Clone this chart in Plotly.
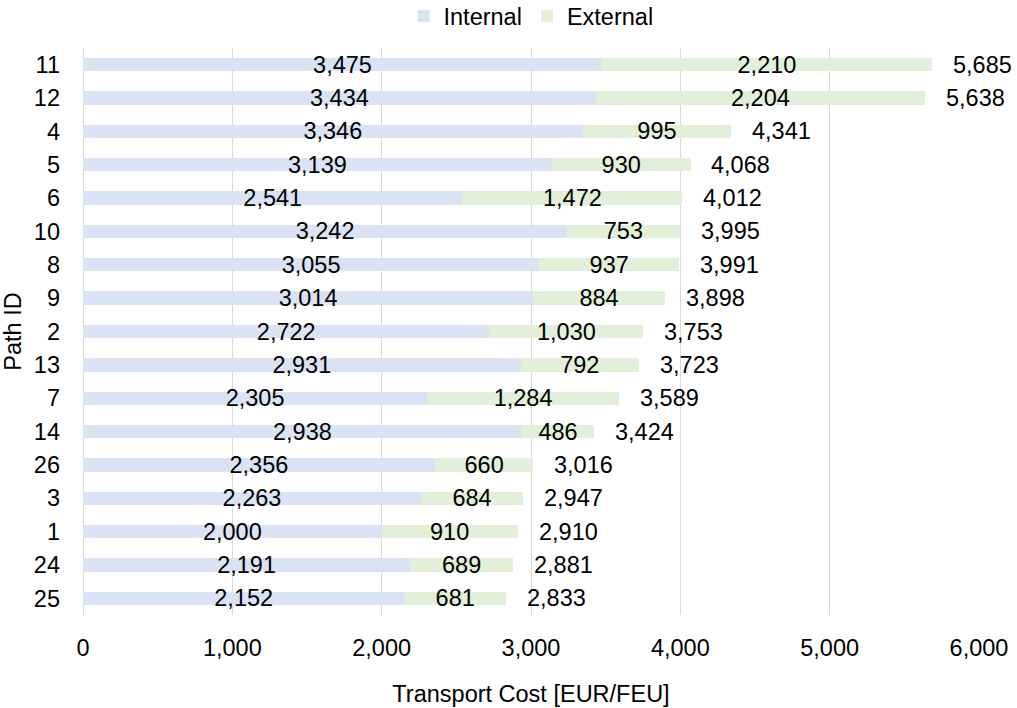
import plotly.graph_objects as go

paths = ["11", "12", "4", "5", "6", "10", "8", "9", "2", "13", "7", "14", "26", "3", "1", "24", "25"]
internal = [3475, 3434, 3346, 3139, 2541, 3242, 3055, 3014, 2722, 2931, 2305, 2938, 2356, 2263, 2000, 2191, 2152]
external = [2210, 2204, 995, 930, 1472, 753, 937, 884, 1030, 792, 1284, 486, 660, 684, 910, 689, 681]
totals = [5685, 5638, 4341, 4068, 4012, 3995, 3991, 3898, 3753, 3723, 3589, 3424, 3016, 2947, 2910, 2881, 2833]

FONT = "Liberation Sans, Arial, sans-serif"
FS = 23.5

fig = go.Figure()
fig.add_trace(go.Bar(
    y=paths, x=internal, name="Internal", orientation="h",
    marker=dict(color="#dae3f3", line=dict(width=0)),
    text=[f"{v:,}" for v in internal], textposition="inside",
    insidetextanchor="middle", constraintext="none",
    textfont=dict(family=FONT, size=FS, color="#000000"),
    width=0.4,
))
fig.add_trace(go.Bar(
    y=paths, x=external, name="External", orientation="h",
    marker=dict(color="#e2f0d9", line=dict(width=0)),
    text=[f"{v:,}" for v in external], textposition="inside",
    insidetextanchor="middle", constraintext="none",
    textfont=dict(family=FONT, size=FS, color="#000000"),
    width=0.4,
))

for i, t in enumerate(totals):
    fig.add_annotation(x=t, y=i, text=f"{t:,}", showarrow=False,
                       xanchor="left", xshift=19,
                       font=dict(family=FONT, size=FS, color="#000000"))

fig.update_layout(
    barmode="stack",
    width=1017, height=708,
    margin=dict(l=83, r=38, t=48, b=93, autoexpand=False),
    paper_bgcolor="white", plot_bgcolor="white",
    font=dict(family=FONT, size=FS, color="#000000"),
    legend=dict(orientation="h", x=0.5, xanchor="center", y=1.056, yanchor="middle",
                font=dict(family=FONT, size=FS), traceorder="normal",
                itemwidth=30),
    showlegend=True,
)
fig.update_xaxes(
    range=[0, 6000], tickvals=[0, 1000, 2000, 3000, 4000, 5000, 6000],
    ticktext=["0", "1,000", "2,000", "3,000", "4,000", "5,000", "6,000"],
    showgrid=True, gridcolor="#d9d9d9", gridwidth=1,
    zeroline=True, zerolinecolor="#d9d9d9", zerolinewidth=1,
    showline=False, ticks="", ticklabelstandoff=16,
    title=dict(text="Transport Cost [EUR/FEU]", standoff=26,
               font=dict(family=FONT, size=FS)),
)
fig.update_yaxes(
    type="category", categoryorder="array", categoryarray=paths,
    tickmode="array", tickvals=paths, ticktext=paths,
    autorange="reversed", showgrid=False, showline=False, ticks="",
    ticklabelstandoff=22,
    title=dict(text="Path ID", standoff=6, font=dict(family=FONT, size=FS)),
)

fig.write_html("out.html")
